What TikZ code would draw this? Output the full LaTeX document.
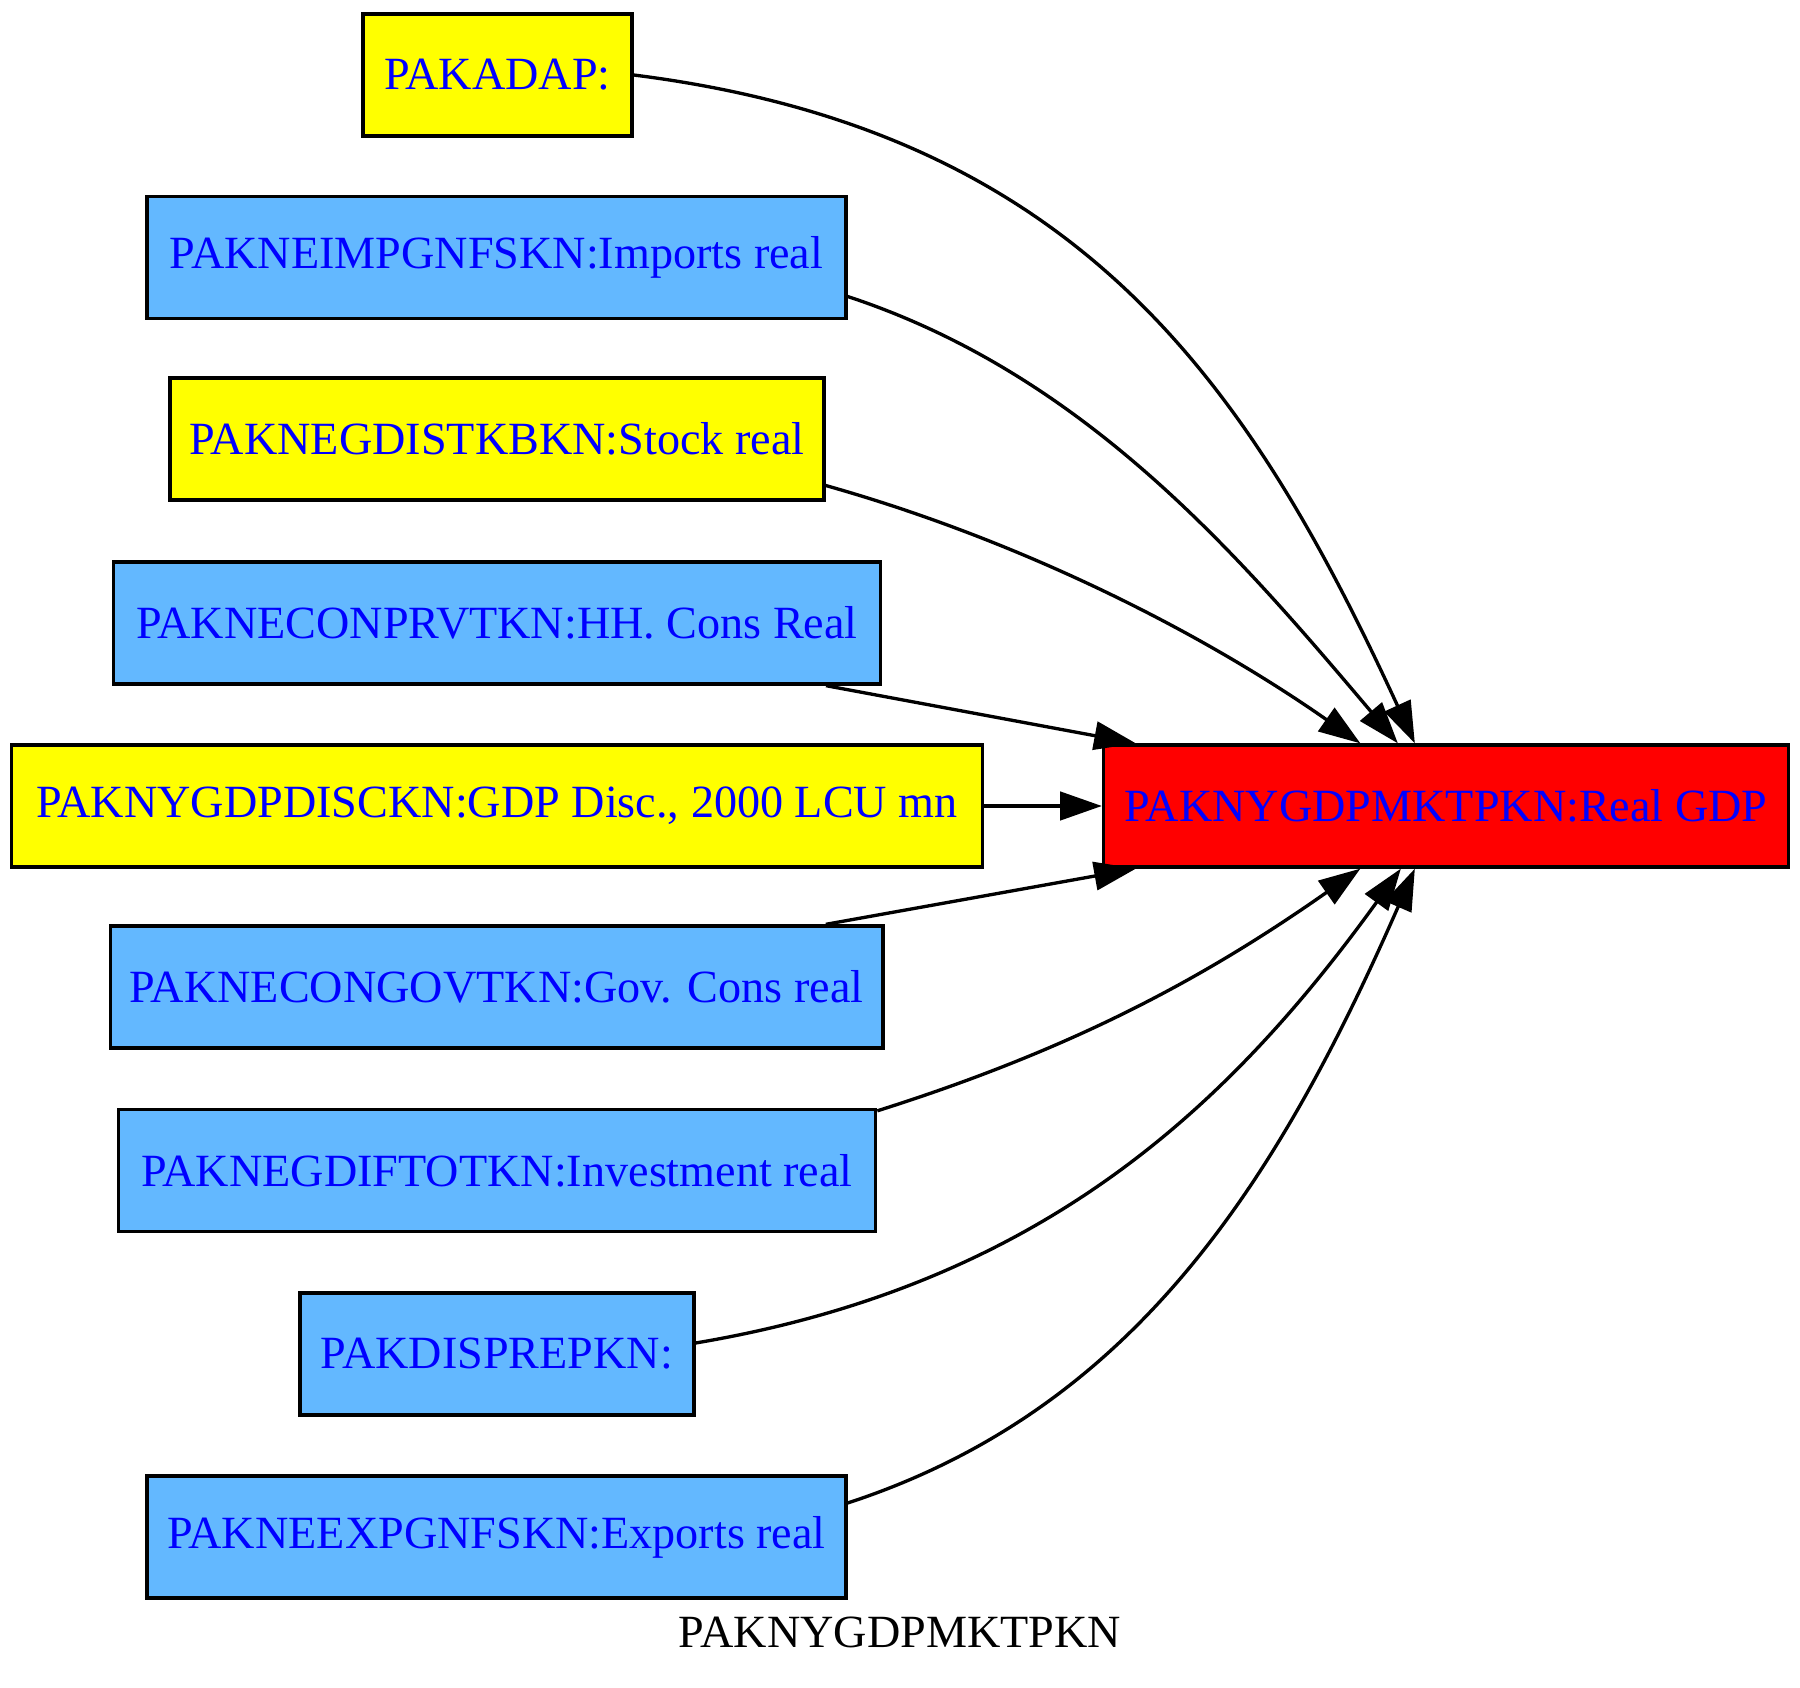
\documentclass[tikz,border=0pt]{standalone}
\usepackage{fontspec}
\setmainfont{Liberation Serif}
\usetikzlibrary{arrows.meta,calc}
\definecolor{sblue}{RGB}{99,184,255}
\definecolor{tblue}{RGB}{0,0,255}
\definecolor{pyellow}{RGB}{255,255,0}
\definecolor{pred}{RGB}{255,0,0}
\begin{document}
\begin{tikzpicture}[x=0.3pt,y=-0.3pt,
  box/.style={draw=black,line width=1pt,minimum height=36.6pt,inner sep=0pt,text=tblue,font=\fontsize{13.85}{16}\selectfont},
  ybox/.style={box,fill=pyellow},
  bbox/.style={box,fill=sblue},
  rbox/.style={box,fill=pred},
  edge/.style={draw,line width=1pt,-{Triangle[length=12.5pt,width=8.5pt]}}]
\useasboundingbox (0,0) rectangle (1800,1688);
\node[ybox,minimum width=80.7pt] (adap) at (497.5,75) {PAKADAP:};
\node[bbox,minimum width=209.7pt] (imp) at (496.5,257.5) {PAKNEIMPGNFSKN:Imports real};
\node[ybox,minimum width=196.2pt] (stk) at (497,439) {PAKNEGDISTKBKN:Stock real};
\node[bbox,minimum width=230pt] (prv) at (497,623) {PAKNECONPRVTKN:HH. Cons Real};
\node[ybox,minimum width=291.4pt] (disc) at (497,806) {PAKNYGDPDISCKN:GDP Disc., 2000 LCU mn};
\node[bbox,minimum width=231.8pt] (gov) at (496.5,987) {PAKNECONGOVTKN:Gov. Cons real};
\node[bbox,minimum width=227.2pt] (inv) at (497,1170.5) {PAKNEGDIFTOTKN:Investment real};
\node[bbox,minimum width=118.2pt] (disp) at (497,1354) {PAKDISPREPKN:};
\node[bbox,minimum width=209.7pt] (exp) at (496.5,1537) {PAKNEEXPGNFSKN:Exports real};
\node[rbox,minimum width=205.5pt] (gdp) at (1446,806) {PAKNYGDPMKTPKN:Real GDP};
\node[font=\fontsize{13.85}{16}\selectfont,text=black,inner sep=0pt] (title) at (900,1632) {PAKNYGDPMKTPKN};
\draw[edge] (adap.east) .. controls (1077.5,131) and (1248,381) .. ($(gdp.north west)+(313,0)$);
\draw[edge] ($(imp.east)+(0,39)$) .. controls (1084.5,374.5) and (1237.7,554) .. ($(gdp.north west)+(296,0)$);
\draw[edge] ($(stk.east)+(0,46.5)$) .. controls (1017.6,539.6) and (1198,629.8) .. ($(gdp.north west)+(258.5,0)$);
\draw[edge] ($(prv.south east)+(-56,0)$) -- ($(gdp.north west)+(34,0)$);
\draw[edge] (disc.east) -- (gdp.west);
\draw[edge] ($(gov.north east)+(-58.7,0)$) -- ($(gdp.south west)+(34,0)$);
\draw[edge] ($(inv.north east)+(0,3)$) .. controls (1066.6,1051) and (1198.7,982.2) .. ($(gdp.south west)+(258.5,0)$);
\draw[edge] ($(disp.east)+(0,-11)$) .. controls (1040,1285) and (1228,1108) .. ($(gdp.south west)+(299,0)$);
\draw[edge] ($(exp.east)+(0,-34)$) .. controls (1132,1410) and (1276,1185.6) .. ($(gdp.south west)+(313,0)$);
\end{tikzpicture}
\end{document}
